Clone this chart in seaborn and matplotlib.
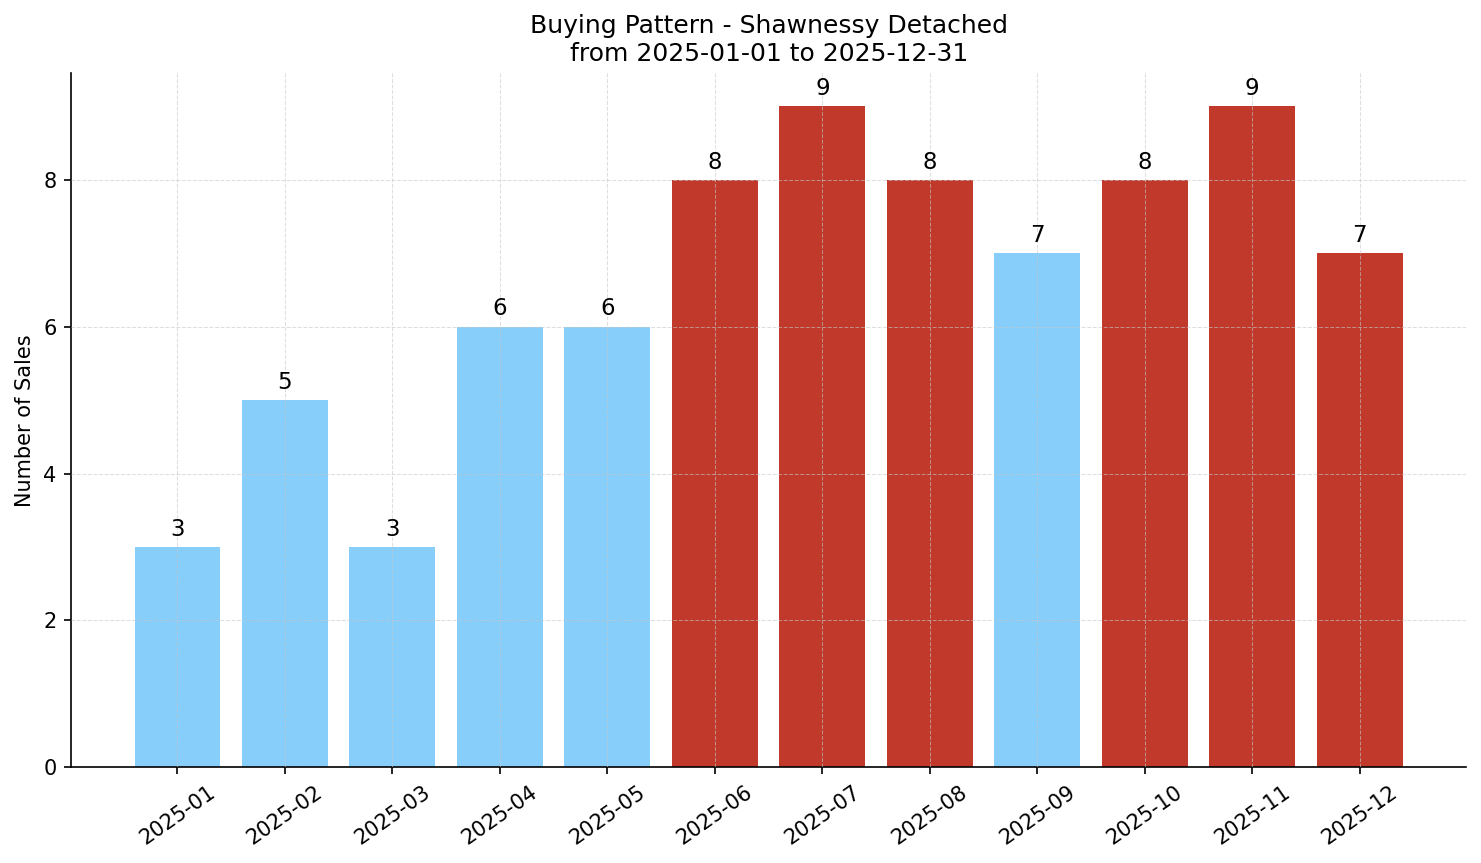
import matplotlib
matplotlib.use("Agg")
import matplotlib.pyplot as plt
import seaborn as sns
import pandas as pd

months = ["2025-01", "2025-02", "2025-03", "2025-04", "2025-05", "2025-06",
          "2025-07", "2025-08", "2025-09", "2025-10", "2025-11", "2025-12"]
sales = [3, 5, 3, 6, 6, 8, 9, 8, 7, 8, 9, 7]
highlight = [False, False, False, False, False, True,
             True, True, False, True, True, True]

BLUE = "#87CEFA"
RED = "#C0392B"

df = pd.DataFrame({"month": months, "sales": sales})
palette = {m: (RED if h else BLUE) for m, h in zip(months, highlight)}

plt.rcParams["font.family"] = ["DejaVu Sans"]

fig, ax = plt.subplots(figsize=(1481 / 150, 863 / 150), dpi=150)
sns.barplot(data=df, x="month", y="sales", hue="month", palette=palette,
            legend=False, width=0.8, saturation=1, linewidth=0,
            edgecolor="none", ax=ax)

for c in ax.containers:
    ax.bar_label(c, padding=3, fontsize=11)

ax.set_xlim(-0.99, 11.99)
ax.set_ylim(0, 9.45)
# grid drawn over the bars, faint
ax.grid(True, linestyle="--", linewidth=0.5, color="#c8c8c8", alpha=0.6)
ax.set_axisbelow(False)
sns.despine(ax=ax)
ax.tick_params(axis="x", labelrotation=35, labelsize=10)
ax.tick_params(axis="y", labelsize=10)
ax.set_xlabel("")
ax.set_ylabel("Number of Sales", fontsize=10)
ax.set_title("Buying Pattern - Shawnessy Detached\nfrom 2025-01-01 to 2025-12-31",
             fontsize=12)

fig.subplots_adjust(left=0.048, right=0.99, top=0.915, bottom=0.111)
fig.savefig("out.png", dpi=150)
